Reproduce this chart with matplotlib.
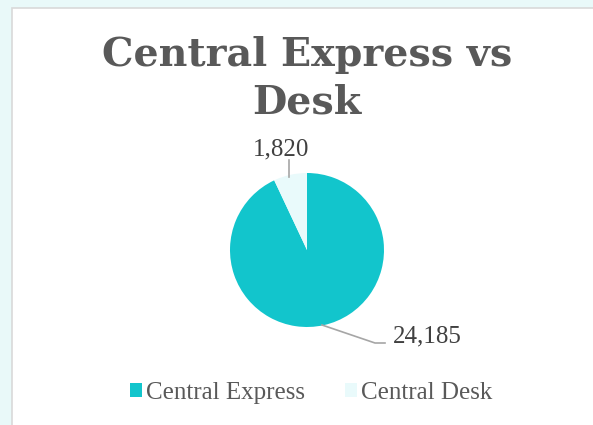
import matplotlib.pyplot as plt
from matplotlib.patches import Rectangle

labels = ["Central Express", "Central Desk"]
values = [24185, 1820]
colors = ["#12c5cc", "#e9fafb"]
value_labels = ["24,185", "1,820"]


def display():
    plt.rcParams["font.family"] = ["Liberation Serif", "DejaVu Serif"]
    fig = plt.figure(figsize=(5.93, 4.25), dpi=100, facecolor="#e9f9f9")

    # white chart area with thin grey border
    fig.patches.append(Rectangle((12 / 593, -0.1), 1.1, 1 - 8 / 425 + 0.1,
                                 transform=fig.transFigure, facecolor="white",
                                 edgecolor="#d9d9d9", linewidth=1.2,
                                 zorder=-5))

    fig.text(307 / 593, 1 - 55 / 425, "Central Express vs", ha="center",
             va="center", fontsize=28.5, fontweight="bold", color="#595959",
             family=["DejaVu Serif"])
    fig.text(307 / 593, 1 - 103 / 425, "Desk", ha="center", va="center",
             fontsize=28.5, fontweight="bold", color="#595959",
             family=["DejaVu Serif"])

    ax = fig.add_axes([(307 - 77) / 593, 1 - (250 + 77) / 425,
                       154 / 593, 154 / 425])
    ax.pie(values, colors=colors, startangle=90, counterclock=False,
           wedgeprops={"linewidth": 0})
    ax.set_xlim(-1, 1)
    ax.set_ylim(-1, 1)
    ax.set_aspect("equal")
    ax.axis("off")

    # data labels with leader lines
    fig.add_artist(plt.Line2D([289 / 593, 289 / 593],
                              [1 - 160 / 425, 1 - 177 / 425],
                              color="#a6a6a6", linewidth=1.2))
    fig.text(281 / 593, 1 - 149 / 425, value_labels[1], ha="center",
             va="center", fontsize=18, color="#404040")
    fig.add_artist(plt.Line2D([322 / 593, 375 / 593, 385 / 593],
                              [1 - 325 / 425, 1 - 343 / 425, 1 - 343 / 425],
                              color="#a6a6a6", linewidth=1.2))
    fig.text(427 / 593, 1 - 336 / 425, value_labels[0], ha="center",
             va="center", fontsize=18, color="#404040")

    # legend
    handles = [Rectangle((0, 0), 1, 1, facecolor=c, edgecolor="none")
               for c in colors]
    fig.legend(handles, labels, loc="center", ncol=2,
               bbox_to_anchor=(311 / 593, 1 - 393 / 425), frameon=False,
               fontsize=18, labelcolor="#595959", handlelength=0.5,
               handleheight=0.5, handletextpad=0.15, columnspacing=1.6)

    fig.savefig("out.png", dpi=100, facecolor=fig.get_facecolor())


def main():
    display()


if __name__ == "__main__":
    main()
